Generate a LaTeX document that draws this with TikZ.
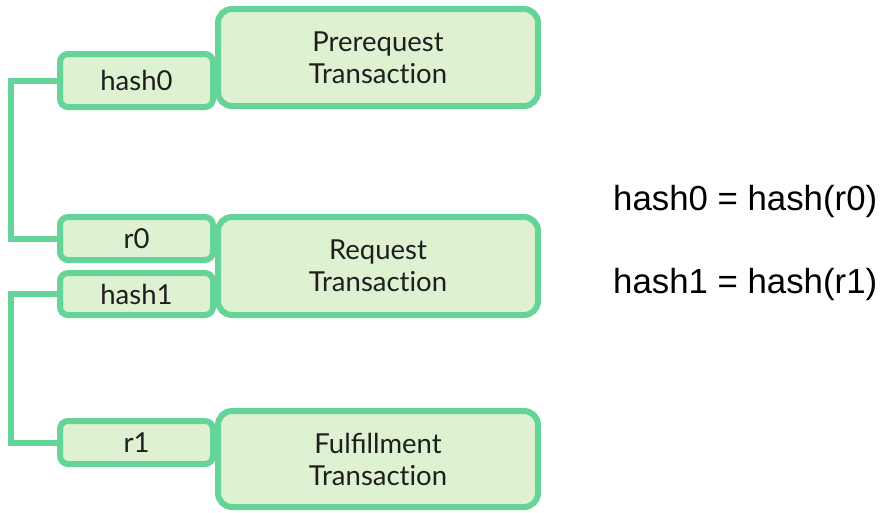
\documentclass[tikz,border=0pt]{standalone}
\usepackage{fontspec}
\setmainfont{Lato}
\newfontfamily\arialf{Liberation Sans}
\definecolor{edgegreen}{RGB}{100,212,152}
\definecolor{fillgreen}{RGB}{222,241,209}
\definecolor{txt}{RGB}{30,30,30}
\newcommand{\txn}{Transact\kern0pt ion}
\begin{document}
\begin{tikzpicture}[x=1pt,y=-1pt,
  bigbox/.style={draw=edgegreen,fill=fillgreen,line width=6pt,rounded corners=14pt,
    minimum width=320pt,minimum height=97pt,inner sep=0pt,align=center,
    font=\fontsize{27.5}{32}\selectfont,text=txt},
  smallbox/.style={draw=edgegreen,fill=fillgreen,line width=6pt,rounded corners=8pt,
    minimum width=153pt,inner sep=0pt,font=\fontsize{27.5}{32}\selectfont,text=txt},
  link/.style={draw=edgegreen,line width=6pt},
  eqn/.style={font=\arialf\fontsize{34.8}{40}\selectfont,text=black,anchor=base west,inner sep=0pt}]
\useasboundingbox (0,0) rectangle (882,512);
% small boxes
\node[smallbox,minimum height=53pt] (hash0) at (136.5,80.5) {hash0};
\node[smallbox,minimum height=43pt] (r0) at (136.5,238.5) {r0};
\node[smallbox,minimum height=42pt] (hash1) at (136.5,294) {hash1};
\node[smallbox,minimum height=43pt] (r1) at (136.5,442.5) {r1};
% big boxes
\node[bigbox] (pre) at (378,57.5) {Prerequest\\\txn};
\node[bigbox,minimum height=98pt] (req) at (378,266) {Request\\\txn};
\node[bigbox,minimum height=96pt] (ful) at (378,459) {Fulfillment\\\txn};
% connectors
\draw[link] (hash0.west) -- ++(-46,0) coordinate (c0) |- (r0.west);
\draw[link] (hash1.west) -- ++(-46,0) coordinate (c1) |- (r1.west);
% equations
\node[eqn] (eq0) at (613,210) {hash0 = hash(r0)};
\node[eqn] (eq1) at (613,293) {hash1 = hash(r1)};
\end{tikzpicture}
\end{document}
